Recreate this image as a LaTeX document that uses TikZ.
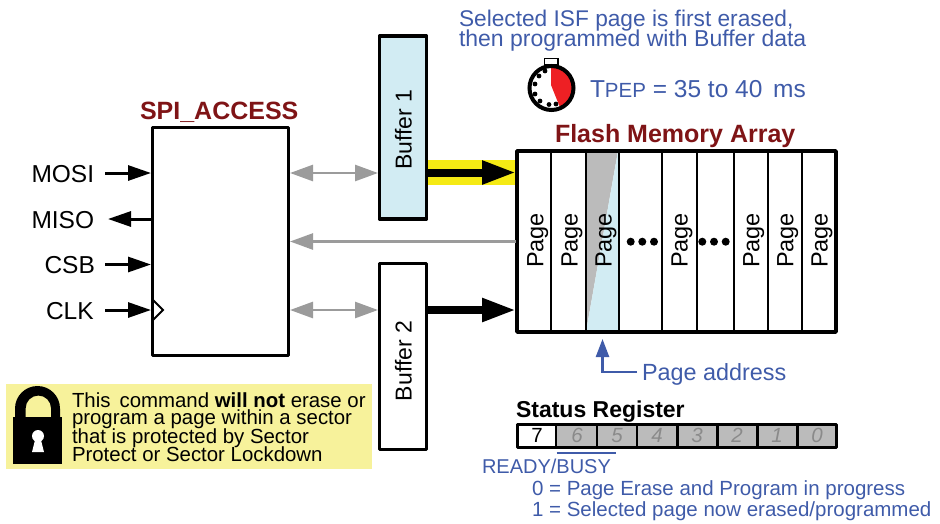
\documentclass[tikz,border=0pt]{standalone}
\usepackage{fontspec}
\setmainfont{Liberation Sans}
\usetikzlibrary{arrows.meta}
\definecolor{txtblue}{HTML}{3F5BA9}
\definecolor{darkred}{HTML}{7F1416}
\definecolor{hiyellow}{HTML}{F5EA14}
\definecolor{noteyellow}{HTML}{F7F29B}
\definecolor{palecyan}{HTML}{D2ECF3}
\definecolor{regrey}{HTML}{BBBBBB}
\definecolor{arrgrey}{HTML}{9B9B9B}
\definecolor{digitgrey}{HTML}{8A8A8A}
\definecolor{wred}{HTML}{EE2024}
\newcommand{\fs}[1]{\fontsize{#1}{#1}\selectfont}
\tikzset{
  x=1pt,y=-1pt,
  txt/.style={anchor=base west,inner sep=0pt,outer sep=0pt},
  rtxt/.style={anchor=base,rotate=90,inner sep=0pt,outer sep=0pt,font=\fs{23.5}},
  box/.style={draw=black,line width=3.5pt,line join=round},
  sig/.style={line width=3pt,-{Triangle[length=23pt,width=15pt]}},
  greyarr/.style={draw=arrgrey,line width=2.6pt,-{Triangle[length=23pt,width=16pt]}},
  greyboth/.style={draw=arrgrey,line width=2.6pt,{Triangle[length=23pt,width=16pt]}-{Triangle[length=23pt,width=16pt]}},
  bigarr/.style={line width=8pt,-{Triangle[length=34pt,width=22pt]}},
  divider/.style={line width=2.4pt},
  dot/.style={circle,fill=black,inner sep=0pt,minimum size=#1},
}
\begin{document}
\begin{tikzpicture}
\useasboundingbox (0,0) rectangle (940,523);
% yellow highlight and note
\fill[hiyellow] (425,160) rectangle (517,185);
\fill[noteyellow] (6,384) rectangle (372,469);
% SPI block
\node[box,minimum width=136pt,minimum height=228pt,inner sep=0pt,outer sep=0pt,anchor=north west] (spi) at (152.3,127.5) {};
\node[txt,text=darkred,font=\fs{25}\bfseries] (spititle) at (140,119) {SPI\_ACCESS};
% Buffers
\node[box,fill=palecyan,minimum width=47pt,minimum height=183pt,inner sep=0pt,outer sep=0pt,anchor=north west] (buf1) at (379.5,36) {};
\node[box,fill=white,minimum width=47pt,minimum height=186pt,inner sep=0pt,outer sep=0pt,anchor=north west] (buf2) at (379.5,263.5) {};
\node[rtxt,font=\fs{23}] (buf1t) at (411.5,129.6) {Buffer 1};
\node[rtxt,font=\fs{23}] (buf2t) at (411.5,361) {Buffer 2};
% Array
\path[fill=regrey] (586,151) -- (618,151) -- (586,332) -- cycle;
\path[fill=palecyan] (618,151) -- (619,151) -- (619,332) -- (586,332) -- cycle;
\node[box,minimum width=319pt,minimum height=181pt,inner sep=0pt,outer sep=0pt,anchor=north west] (arr) at (517,151) {};
\foreach \x in {551,586,619,662,697,734,768,802}{\draw[divider] (\x,151) -- (\x,332);}
\node[txt,text=darkred,font=\fs{25}\bfseries] (arrtitle) at (555,142) {Flash Memory Array};
\foreach \x/\n in {543.3/a,577.7/b,611.7/c,687.7/d,759.3/e,793.3/f,827.7/g}{\node[rtxt] (pg\n) at (\x,240.5) {Page};}
\foreach \x/\n in {630.7/a,642.3/b,654/c,702.3/d,714/e,725.7/f}{\node[dot=8pt] (d\n) at (\x,241.7) {};}
% signals
\node[txt,font=\fs{24.5}] (mosi) at (31.5,182) {MOSI};
\node[txt,font=\fs{24.5}] (miso) at (31.5,228) {MISO};
\node[txt,font=\fs{24.5}] (csb) at (44.5,273) {CSB};
\node[txt,font=\fs{24.5}] (clk) at (46,319) {CLK};
\coordinate (mosiS) at (105,173);
\coordinate (mosiE) at (151,173);
\coordinate (misoS) at (151,219);
\coordinate (misoE) at (108,219);
\coordinate (csbS) at (105,264.5);
\coordinate (csbE) at (151,264.5);
\coordinate (clkS) at (105,310);
\coordinate (clkE) at (151,310);
\draw[sig] (mosiS) -- (mosiE);
\draw[sig] (misoS) -- (misoE);
\draw[sig] (csbS) -- (csbE);
\draw[sig] (clkS) -- (clkE);
\draw[line width=2pt,line join=miter] (153,300) -- (163,310) -- (153,320);
% grey connectors
\coordinate (g1a) at (290,173); \coordinate (g1b) at (378,173);
\coordinate (g2a) at (290,310); \coordinate (g2b) at (378,310);
\coordinate (g3a) at (515.5,241.5); \coordinate (g3b) at (290,241.5);
\draw[greyboth] (g1a) -- (g1b);
\draw[greyboth] (g2a) -- (g2b);
\draw[greyarr] (g3a) -- (g3b);
% black arrows
\coordinate (b1a) at (428,172.5); \coordinate (b1b) at (516,172.5);
\coordinate (b2a) at (428,310); \coordinate (b2b) at (516,310);
\draw[bigarr] (b1a) -- (b1b);
\draw[bigarr] (b2a) -- (b2b);
% page address
\coordinate (paS) at (637,372); \coordinate (paC) at (602.5,372); \coordinate (paE) at (602.5,339);
\draw[draw=txtblue,line width=2.4pt,-{Triangle[length=18pt,width=13pt]}] (paS) -- (paC) -- (paE);
\node[txt,text=txtblue,font=\fs{23.4}] (pa) at (642,380) {Page address};
% top text
\node[txt,text=txtblue,font=\fs{22.7}] (t1) at (459,26) {Selected ISF page is first erased,};
\node[txt,text=txtblue,font=\fs{23}] (t2) at (459,46.5) {then programmed with Buffer data};
\node[txt,text=txtblue,font=\fs{24.5}] (t3) at (590,97) {T{\fs{20.5}PEP} = 35 to 40\hspace{4pt} ms};
% stopwatch
\draw[line width=1.6pt,fill=white] (544.5,58.5) rectangle (558,65);
\fill[white] (551.5,88) circle[radius=22pt];
\path[fill=wred] (551,67) arc[start angle=90,end angle=-65,radius=21pt] -- (551,85) -- cycle;
\draw[line width=4pt] (551.5,88) circle[radius=22pt];
\foreach \px/\py in {545/71,539/76,535/84,535/94,540/101,549/104.5,556/104}{\fill (\px,\py) circle[radius=2.4pt];}
% note
\fill (13,417) rectangle (62,464);
\fill (15,417) -- (15,408.5) arc[start angle=180,end angle=0,radius=22.5pt] -- (60,417) -- (51,417) -- (51,408.2) arc[start angle=0,end angle=180,radius=12.65pt] -- (25.7,417) -- cycle;
\fill[white] (38,436) circle[radius=6pt];
\fill[white] (35.5,438) -- (40.5,438) -- (44,452) -- (32,452) -- cycle;
\node[txt,font=\fs{20.4}] (n1) at (72,407) {This\, command \textbf{will not} erase or};
\node[txt,font=\fs{20.4}] (n2) at (72,424.5) {program a page within a sector};
\node[txt,font=\fs{20.4}] (n3) at (72,443) {that is protected by Sector};
\node[txt,font=\fs{20.4}] (n4) at (72,461) {Protect or Sector Lockdown};
% status register
\node[txt,font=\fs{23}\bfseries] (st) at (516,417) {Status Register};
\path[fill=regrey] (556,424) rectangle (836,447);
\node[box,minimum width=319pt,minimum height=23pt,inner sep=0pt,outer sep=0pt,anchor=north west] (reg) at (517.5,424.3) {};
\foreach \x in {556,596.7,636.7,677.3,717.3,757.3,797.3}{\draw[divider] (\x,424) -- (\x,447);}
\node[anchor=base,inner sep=0pt,font=\fs{20.5}] (b7) at (537,442) {7};
\foreach \x/\d in {577/6,617/5,657/4,697/3,737/2,777/1,817/0}{\node[anchor=base,inner sep=0pt,text=digitgrey,font=\fs{20.5}\itshape] (b\d) at (\x,442) {\d};}
% ready/busy
\node[txt,text=txtblue,font=\fs{20}] (rb) at (482,473) {READY/BUSY};
\coordinate (ola) at (556.7,453); \coordinate (olb) at (615.7,453);
\draw[txtblue,line width=2pt] (ola) -- (olb);
\node[txt,text=txtblue,font=\fs{20.5}] (l0) at (532,495) {0 = Page Erase and Program in progress};
\node[txt,text=txtblue,font=\fs{20.5}] (l1) at (532,516.5) {1 = Selected page now erased/programmed};
\end{tikzpicture}
\end{document}
